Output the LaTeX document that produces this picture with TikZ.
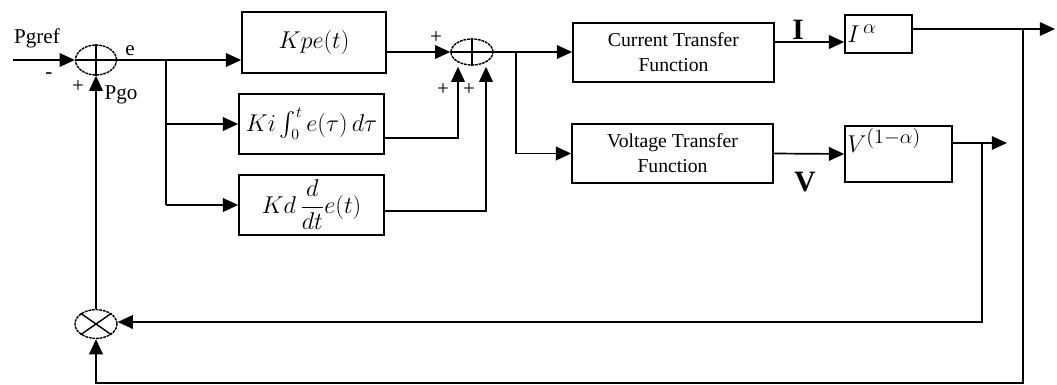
\documentclass[tikz,border=0pt]{standalone}
\usepackage{amsmath}
\usepackage{fontspec}
\setmainfont{Liberation Serif}
\usepackage{tikz}
\usetikzlibrary{arrows.meta,positioning,shapes.geometric,calc}
\tikzset{
  blk/.style={draw,line width=1.2pt,inner sep=0pt,align=center,
              font=\fontsize{14}{18}\selectfont},
  sumnode/.style={ellipse,draw,line width=1pt,inner sep=0pt,
                  dash pattern=on 2pt off 0.6pt},
  sig/.style={line width=1.2pt},
  sigarrow/.style={-{Triangle[length=3.8mm,width=3.4mm]},line width=1.2pt},
  lbl/.style={inner sep=0pt,font=\fontsize{15}{17}\selectfont},
  mth/.style={font=\fontsize{16}{19}\selectfont},
  pow/.style={font=\fontsize{19}{22}\selectfont,inner sep=2pt},
  bigsym/.style={inner sep=0pt,font=\fontsize{21}{23}\selectfont\bfseries},
}

\begin{document}
\begin{tikzpicture}[x=0.025cm,y=-0.025cm]
  \useasboundingbox (0,0) rectangle (1057,384);
  % summing and product junctions
  \node[sumnode,minimum width=1.025cm,minimum height=0.75cm] (sumE) at (96,60) {};
  \draw[line width=1pt] (sumE.north)--(sumE.south) (sumE.west)--(sumE.east);
  \node[sumnode,minimum width=1.05cm,minimum height=0.65cm] (sumP) at (472,52) {};
  \draw[line width=1pt] (sumP.north)--(sumP.south) (sumP.west)--(sumP.east);
  \node[sumnode,minimum width=1.05cm,minimum height=0.72cm] (mult) at (96,324) {};
  \draw[line width=1pt] (mult.north west)--(mult.south east)
                        (mult.south west)--(mult.north east);
  % PID blocks
  \node[blk,mth,minimum width=3.6cm,minimum height=1.525cm]
    (kp)at(314,42.5) {$Kpe(t)$};
  \node[blk,mth,minimum width=3.625cm,minimum height=1.5cm]
    (ki)at(311.5,124) {$Ki\int_0^t e(\tau)\,d\tau$};
  \node[blk,mth,minimum width=3.625cm,minimum height=1.5cm]
    (kd)at(311.5,205) {$Kd\,\dfrac{d}{dt}e(t)$};
  % transfer functions
  \node[blk,minimum width=5.025cm,minimum height=1.475cm]
    (curtf)at(673.5,52.5) {Current Transfer\\Function};
  \node[blk,minimum width=5.025cm,minimum height=1.475cm]
    (volttf)at(672.5,153.5) {Voltage Transfer\\Function};
  \node[blk,minimum width=1.675cm,minimum height=0.95cm] (ipow)at(878.5,34) {};
  \node[pow,anchor=west] (ipowtxt)at(ipow.west) {$I^{\,\alpha}$};
  \node[blk,minimum width=2.675cm,minimum height=1.4cm] (vpow)at(898.5,154) {};
  \node[pow,anchor=north west] (vpowtxt)at(vpow.north west) {$V^{(1-\alpha)}$};
  % points on the wires
  \coordinate (pgref) at (13,60);
  \coordinate (brE) at (166,60);
  \coordinate (brP) at (516,52);
  \coordinate (iline) at (800,42);
  \coordinate (outI) at (1055,29);
  \coordinate (fbI) at (1023,29);
  \coordinate (fbIc) at (1023,383);
  \coordinate (outV) at (1007,143);
  \coordinate (fbV) at (982,143);
  \coordinate (fbVc) at (982,322);
  % wires
  \draw[sigarrow](pgref)--(sumE.west);
  \draw[sigarrow](sumE.east)--(kp.west |- sumE.east);
  \draw[sig](brE)--(brE |- kd.west);
  \draw[sigarrow](brE |- ki.west)--(ki.west);
  \draw[sigarrow](brE |- kd.west)--(kd.west);
  \draw[sigarrow](kp.east |- sumP.west)--(sumP.west);
  \draw[sigarrow]([yshift=-0.35cm]ki.east)-|($(sumP.south)+(-14,1)$);
  \draw[sigarrow]([yshift=-0.15cm]kd.east)-|($(sumP.south)+(14,1)$);
  \draw[sigarrow](sumP.east)--(curtf.west |- sumP.east);
  \draw[sigarrow](brP)|-(volttf.west);
  \draw[sigarrow](curtf.east |- iline)--(ipow.west |- iline);
  \draw[sigarrow](volttf.east)--(vpow.west);
  \draw[sigarrow]([yshift=0.125cm]ipow.east)--(outI);
  \draw[sigarrow]([yshift=0.275cm]vpow.east)--(outV);
  \draw[sigarrow](fbV)--(fbVc)--(mult.east |- fbVc);
  \draw[sigarrow](fbI)--(fbIc)-|(mult.south);
  \draw[sigarrow](mult.north)--(sumE.south);
  % labels
  \node[lbl] (lpgref) at (37,38) {Pgref};
  \node[lbl] (lminus) at (49,76) {-};
  \node[lbl] (le) at (130,51) {e};
  \node[lbl] (lplusE) at (78,87) {+};
  \node[lbl] (lpgo) at (121,95) {Pgo};
  \node[lbl] (lplusP) at (436,38) {+};
  \node[lbl] (lplusI) at (443,90) {+};
  \node[lbl] (lplusD) at (469,90) {+};
  \node[bigsym] (lI) at (798,30) {I};
  \node[bigsym] (lV) at (805,182) {V};
\end{tikzpicture}
\end{document}
